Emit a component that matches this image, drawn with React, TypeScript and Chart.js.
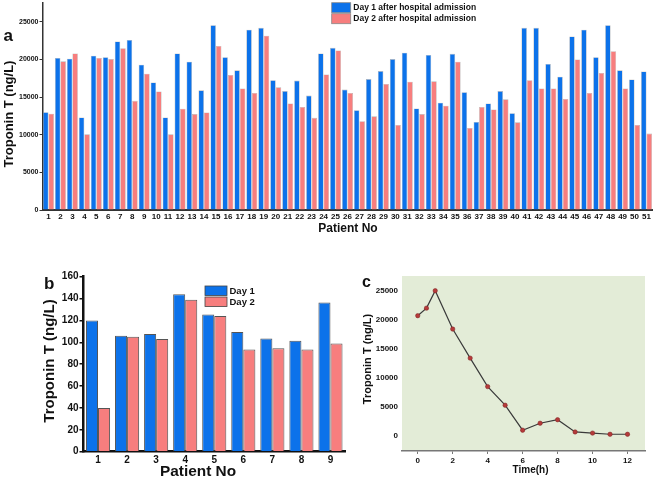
import React, { useEffect, useRef } from 'react';
import { Chart, registerables } from 'chart.js';

Chart.register(...registerables);

const FONT = '"Liberation Sans", Arial, sans-serif';
const BLUE = '#0c72ea';
const RED = '#f77e7e';

// ---- Panel a ----
const patientsA = ['1','2','3','4','5','6','7','8','9','10','11','12','13','14','15','16','17','18','19','20','21','22','23','24','25','26','27','28','29','30','31','32','33','34','35','36','37','38','39','40','41','42','43','44','45','46','47','48','49','50','51'];
const day1A = [13000,20200,20100,12300,20500,20300,22400,22600,19300,16950,12300,20800,19700,15900,24550,20300,18550,23950,24200,17250,15800,17200,15200,20800,21550,16000,13250,17400,18450,20050,20900,13500,20600,14250,20750,15650,11700,14150,15800,12850,24200,24200,19400,17700,23050,23950,20300,24550,18550,17350,18400];
const day2A = [12800,19750,20800,10050,20200,20050,21500,14500,18100,15750,10050,13450,12750,12950,21800,17950,16150,15550,23150,16300,14150,13700,12250,18000,21200,15550,11800,12450,16750,11300,17050,12750,17100,13850,19700,10900,13700,13350,14700,11650,17250,16150,16150,14750,20000,15550,18200,21100,16150,11300,10150];
const yTicksA = [0, 5000, 10000, 15000, 20000, 25000];
const legendA = ['Day 1 after hospital admission', 'Day 2 after hospital admission'];

// ---- Panel b ----
const patientsB = ['1','2','3','4','5','6','7','8','9'];
const day1B = [120,106,107.5,144,125.5,109.5,103.5,101.5,136.5];
const day2B = [40,105,103,139,124,93.5,94.5,93.5,99];
const legendB = ['Day 1', 'Day 2'];

// ---- Panel c ----
const hoursC = [0,0.5,1,2,3,4,5,6,7,8,9,10,11,12];
const tropC = [20700,22000,25000,18400,13400,8500,5300,1000,2200,2800,700,500,300,300];
const xTicksC = [0,2,4,6,8,10,12];
const yTicksC = [0,5000,10000,15000,20000,25000];

function drawText(ctx: CanvasRenderingContext2D, text: string, x: number, y: number, size: number, align: CanvasTextAlign = 'left', baseline: CanvasTextBaseline = 'alphabetic', rotate = 0) {
  ctx.save();
  ctx.font = `bold ${size}px ${FONT}`;
  ctx.fillStyle = '#111';
  ctx.textAlign = align;
  ctx.textBaseline = baseline;
  ctx.translate(x, y);
  if (rotate) ctx.rotate(rotate);
  ctx.fillText(text, 0, 0);
  ctx.restore();
}

function box(ctx: CanvasRenderingContext2D, x: number, y: number, w: number, h: number, fill: string, stroke: string) {
  ctx.save();
  ctx.fillStyle = fill;
  ctx.fillRect(x, y, w, h);
  ctx.strokeStyle = stroke;
  ctx.lineWidth = 0.8;
  ctx.strokeRect(x, y, w, h);
  ctx.restore();
}

const tickFont = (size: number) => ({ family: FONT, size, weight: 'bold' as const });

export default function App() {
  const refA = useRef<HTMLCanvasElement>(null);
  const refB = useRef<HTMLCanvasElement>(null);
  const refC = useRef<HTMLCanvasElement>(null);

  useEffect(() => {
    const overlayA = {
      id: 'overlayA',
      afterDraw(chart: any) {
        const ctx = chart.ctx;
        drawText(ctx, 'a', 3.5, 40.5, 17);
        drawText(ctx, 'Troponin T (ng/L)', 9.5, 114, 13, 'center', 'middle', -Math.PI / 2);
        drawText(ctx, 'Patient No', 348, 229, 12, 'center', 'middle');
        box(ctx, 331.7, 2.7, 19, 10, BLUE, '#888');
        box(ctx, 331.7, 13.7, 19, 10, RED, '#888');
        drawText(ctx, legendA[0], 353.3, 8, 8.5, 'left', 'middle');
        drawText(ctx, legendA[1], 353.3, 19, 8.5, 'left', 'middle');
      },
    };

    const chartA = new Chart(refA.current!, {
      type: 'bar',
      data: {
        labels: patientsA,
        datasets: [
          { label: legendA[0], data: day1A, backgroundColor: BLUE, borderColor: 'rgba(150,150,150,0.7)', borderWidth: 0.6, categoryPercentage: 0.92, barPercentage: 1 },
          { label: legendA[1], data: day2A, backgroundColor: RED, borderColor: 'rgba(150,150,150,0.7)', borderWidth: 0.6, categoryPercentage: 0.92, barPercentage: 1 },
        ],
      },
      options: {
        responsive: false,
        animation: false,
        devicePixelRatio: 1,
        layout: { padding: { top: 3, right: 3.5, left: 0, bottom: 0 } },
        plugins: { legend: { display: false }, tooltip: { enabled: false } },
        scales: {
          x: {
            grid: { display: false, drawTicks: false },
            border: { color: '#333', width: 2 },
            ticks: { autoSkip: false, maxRotation: 0, padding: 2, color: '#111', font: tickFont(8) },
            afterFit: (s: any) => { s.height = 30; s.paddingLeft = 0; s.paddingRight = 0; },
          },
          y: {
            min: 0,
            max: 27500,
            afterBuildTicks: (s: any) => { s.ticks = yTicksA.map((v) => ({ value: v })); },
            grid: { drawOnChartArea: false, tickLength: 3, color: '#333' },
            border: { color: '#333', width: 1.5 },
            ticks: { padding: 1, color: '#111', font: tickFont(7), callback: (v: any) => String(v) },
            afterFit: (s: any) => { s.width = 42.5; s.paddingTop = 0; s.paddingBottom = 0; },
          },
        },
      } as any,
      plugins: [overlayA],
    });

    const overlayB = {
      id: 'overlayB',
      afterDraw(chart: any) {
        const ctx = chart.ctx;
        drawText(ctx, 'b', 44, 48.5, 17);
        drawText(ctx, 'Troponin T (ng/L)', 50, 121, 15, 'center', 'middle', -Math.PI / 2);
        drawText(ctx, 'Patient No', 198, 232, 15.4, 'center', 'middle');
        box(ctx, 205, 46, 22, 9.5, BLUE, '#444');
        box(ctx, 205, 57, 22, 9.5, RED, '#444');
        drawText(ctx, legendB[0], 229.5, 51, 9.5, 'left', 'middle');
        drawText(ctx, legendB[1], 229.5, 62, 9.5, 'left', 'middle');
      },
    };

    const chartB = new Chart(refB.current!, {
      type: 'bar',
      data: {
        labels: patientsB,
        datasets: [
          { label: legendB[0], data: day1B, backgroundColor: BLUE, borderColor: '#555', borderWidth: 1, categoryPercentage: 0.83, barPercentage: 1 },
          { label: legendB[1], data: day2B, backgroundColor: RED, borderColor: '#555', borderWidth: 1, categoryPercentage: 0.83, barPercentage: 1 },
        ],
      },
      options: {
        responsive: false,
        animation: false,
        devicePixelRatio: 1,
        layout: { padding: { top: 36.7, right: 1, left: 0, bottom: 0 } },
        plugins: { legend: { display: false }, tooltip: { enabled: false } },
        scales: {
          x: {
            grid: { display: false, drawTicks: false },
            border: { color: '#111', width: 2.5 },
            ticks: { padding: 3, color: '#111', font: tickFont(10) },
            afterFit: (s: any) => { s.height = 29.3; s.paddingLeft = 0; s.paddingRight = 0; },
          },
          y: {
            min: 0,
            max: 160,
            ticks: { stepSize: 20, padding: 1, color: '#111', font: tickFont(10) },
            grid: { drawOnChartArea: false, tickLength: 4, color: '#111', lineWidth: 1.5 },
            border: { color: '#111', width: 2.5 },
            afterFit: (s: any) => { s.width = 83.5; s.paddingTop = 0; s.paddingBottom = 0; },
          },
        },
      } as any,
      plugins: [overlayB],
    });

    const overlayC = {
      id: 'overlayC',
      beforeDraw(chart: any) {
        const { ctx, chartArea: ca } = chart;
        ctx.save();
        ctx.fillStyle = '#e3ecd7';
        ctx.fillRect(ca.left, ca.top, ca.right - ca.left, ca.bottom - ca.top);
        ctx.restore();
      },
      afterDraw(chart: any) {
        const ctx = chart.ctx;
        drawText(ctx, 'c', 16, 47, 16);
        drawText(ctx, 'Troponin T (ng/L)', 21.7, 119, 11, 'center', 'middle', -Math.PI / 2);
        drawText(ctx, 'Time(h)', 184.5, 230, 10, 'center', 'middle');
      },
    };

    const chartC = new Chart(refC.current!, {
      type: 'line',
      data: {
        datasets: [
          {
            label: 'Troponin T',
            data: hoursC.map((h, i) => ({ x: h, y: tropC[i] })),
            borderColor: '#3a3a3a',
            borderWidth: 1.2,
            pointRadius: 2.2,
            pointBackgroundColor: '#b53a3a',
            pointBorderColor: '#7a2222',
            pointBorderWidth: 0.5,
            tension: 0,
          },
        ],
      },
      options: {
        responsive: false,
        animation: false,
        devicePixelRatio: 1,
        layout: { padding: { top: 36, right: 11, left: 0, bottom: 0 } },
        plugins: { legend: { display: false }, tooltip: { enabled: false } },
        scales: {
          x: {
            type: 'linear',
            min: -0.9,
            max: 13,
            afterBuildTicks: (s: any) => { s.ticks = xTicksC.map((v) => ({ value: v })); },
            grid: { drawOnChartArea: false, tickLength: 3, color: '#777' },
            border: { color: '#777', width: 1.5 },
            ticks: { padding: 2, color: '#111', font: tickFont(8), callback: (v: any) => String(v) },
            afterFit: (s: any) => { s.height = 30; s.paddingLeft = 0; s.paddingRight = 0; },
          },
          y: {
            min: -2580,
            max: 27530,
            afterBuildTicks: (s: any) => { s.ticks = yTicksC.map((v) => ({ value: v })); },
            grid: { display: false, drawTicks: false },
            border: { display: false },
            ticks: { padding: 4, color: '#111', font: tickFont(8), callback: (v: any) => String(v) },
            afterFit: (s: any) => { s.width = 56; s.paddingTop = 0; s.paddingBottom = 0; },
          },
        },
      } as any,
      plugins: [overlayC],
    });

    return () => {
      chartA.destroy();
      chartB.destroy();
      chartC.destroy();
    };
  }, []);

  return (
    <div style={{ position: 'fixed', left: 0, top: 0, width: 656, height: 481, background: '#fff' }}>
      <canvas ref={refA} width={656} height={240} style={{ position: 'absolute', left: 0, top: 0 }} />
      <canvas ref={refB} width={346} height={241} style={{ position: 'absolute', left: 0, top: 240 }} />
      <canvas ref={refC} width={310} height={241} style={{ position: 'absolute', left: 346, top: 240 }} />
    </div>
  );
}
